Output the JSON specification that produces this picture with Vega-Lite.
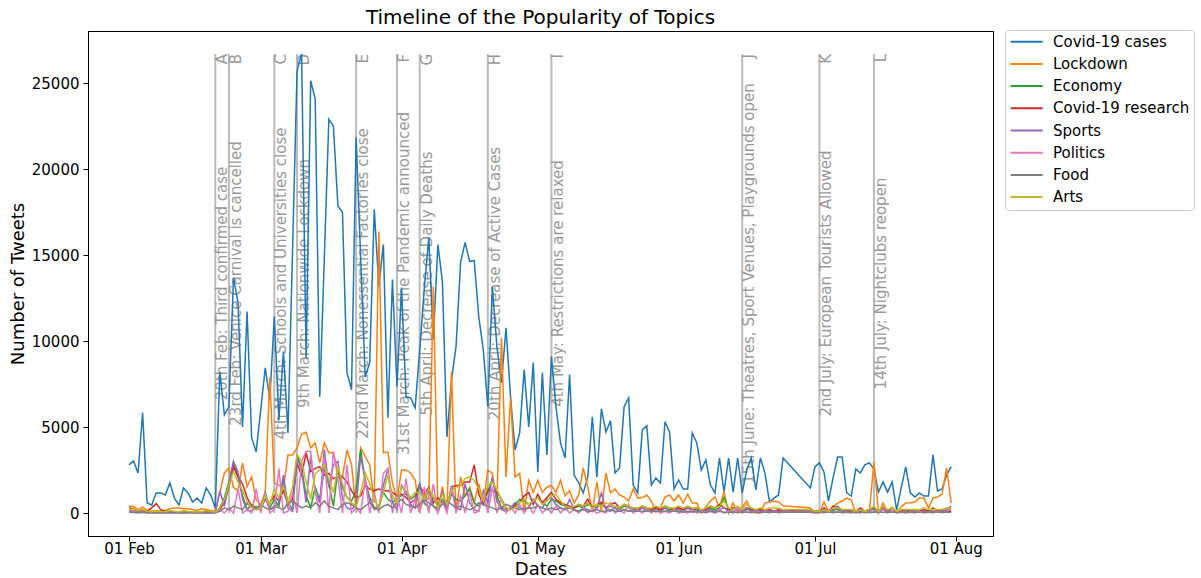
{
"$schema":"https://vega.github.io/schema/vega-lite/v6.json",
"width":905,"height":505,
"autosize":{"type":"none"},
"padding":{"left":88,"top":31,"right":208,"bottom":42},
"background":"white",
"title":{"text":"Timeline of the Popularity of Topics","fontSize":20,"fontWeight":"normal","font":"DejaVu Sans","color":"black","anchor":"middle","offset":-18,"baseline":"bottom"},
"config":{
"font":"DejaVu Sans",
"view":{"stroke":"black","strokeWidth":1},
"axis":{"grid":false,"domainColor":"black","tickColor":"black","labelColor":"black","titleColor":"black","labelFont":"DejaVu Sans","titleFont":"DejaVu Sans","labelFontSize":15,"titleFontSize":18,"titleFontWeight":"normal","tickSize":5,"domainWidth":1,"tickWidth":1}
},
"datasets":{
"topics":[{"k":"c","topic":"Covid-19 cases"},{"k":"l","topic":"Lockdown"},{"k":"e","topic":"Economy"},{"k":"r","topic":"Covid-19 research"},{"k":"s","topic":"Sports"},{"k":"p","topic":"Politics"},{"k":"f","topic":"Food"},{"k":"a","topic":"Arts"}],
"events":[
{"t":"2020-02-20","letter":"A","label":"20th Feb: Third confirmed case"},
{"t":"2020-02-23","letter":"B","label":"23rd Feb: Venice Carnival is cancelled"},
{"t":"2020-03-04","letter":"C","label":"4th March: Schools and Universities close"},
{"t":"2020-03-09","letter":"D","label":"9th March: Nationwide Lockdown"},
{"t":"2020-03-22","letter":"E","label":"22nd March: Nonessential Factories close"},
{"t":"2020-03-31","letter":"F","label":"31st March: Peak of the Pandemic announced"},
{"t":"2020-04-05","letter":"G","label":"5th April: Decrease of Daily Deaths"},
{"t":"2020-04-20","letter":"H","label":"20th April: Decrease of Active Cases"},
{"t":"2020-05-04","letter":"I","label":"4th May: Restrictions are relaxed"},
{"t":"2020-06-15","letter":"J","label":"15th June: Theatres, Sport Venues, Playgrounds open"},
{"t":"2020-07-02","letter":"K","label":"2nd July: European Tourists Allowed"},
{"t":"2020-07-14","letter":"L","label":"14th July: Nightclubs reopen"}
],
"tweets":[
{"t":"2020-02-01","c":2800,"l":400,"e":100,"r":300,"s":50,"p":150,"f":50,"a":200},
{"t":"2020-02-02","c":3030,"l":380,"e":120,"r":250,"s":30,"p":100,"f":50,"a":250},
{"t":"2020-02-03","c":2330,"l":200,"e":80,"r":100,"s":20,"p":50,"f":30,"a":150},
{"t":"2020-02-04","c":5830,"l":350,"e":150,"r":150,"s":40,"p":80,"f":40,"a":200},
{"t":"2020-02-05","c":580,"l":150,"e":60,"r":100,"s":10,"p":20,"f":20,"a":100},
{"t":"2020-02-06","c":470,"l":100,"e":50,"r":300,"s":10,"p":10,"f":20,"a":80},
{"t":"2020-02-07","c":1170,"l":150,"e":70,"r":550,"s":20,"p":30,"f":30,"a":120},
{"t":"2020-02-08","c":1170,"l":100,"e":60,"r":200,"s":10,"p":20,"f":20,"a":90},
{"t":"2020-02-09","c":1050,"l":150,"e":50,"r":100,"s":10,"p":10,"f":20,"a":80},
{"t":"2020-02-10","c":1750,"l":250,"e":80,"r":80,"s":30,"p":40,"f":30,"a":150},
{"t":"2020-02-11","c":870,"l":300,"e":60,"r":60,"s":20,"p":20,"f":20,"a":100},
{"t":"2020-02-12","c":470,"l":300,"e":50,"r":50,"s":10,"p":10,"f":20,"a":80},
{"t":"2020-02-13","c":1460,"l":250,"e":70,"r":80,"s":20,"p":30,"f":30,"a":130},
{"t":"2020-02-14","c":1170,"l":250,"e":60,"r":60,"s":10,"p":20,"f":20,"a":100},
{"t":"2020-02-15","c":640,"l":200,"e":50,"r":50,"s":10,"p":10,"f":20,"a":80},
{"t":"2020-02-16","c":870,"l":150,"e":60,"r":60,"s":20,"p":20,"f":20,"a":90},
{"t":"2020-02-17","c":580,"l":250,"e":50,"r":50,"s":10,"p":10,"f":20,"a":80},
{"t":"2020-02-18","c":1460,"l":200,"e":80,"r":80,"s":30,"p":30,"f":30,"a":150},
{"t":"2020-02-19","c":1050,"l":150,"e":60,"r":60,"s":20,"p":20,"f":20,"a":100},
{"t":"2020-02-20","c":290,"l":100,"e":50,"r":50,"s":10,"p":10,"f":20,"a":60},
{"t":"2020-02-21","c":8220,"l":1170,"e":300,"r":200,"s":1300,"p":200,"f":100,"a":300},
{"t":"2020-02-22","c":5710,"l":2330,"e":900,"r":600,"s":400,"p":0,"f":300,"a":800},
{"t":"2020-02-23","c":6180,"l":2620,"e":1800,"r":1500,"s":1700,"p":300,"f":200,"a":1600},
{"t":"2020-02-24","c":13700,"l":1500,"e":2950,"r":2700,"s":3000,"p":0,"f":400,"a":2400},
{"t":"2020-02-25","c":12240,"l":1300,"e":2100,"r":2100,"s":2400,"p":1400,"f":300,"a":1800},
{"t":"2020-02-26","c":5010,"l":2900,"e":1000,"r":1700,"s":800,"p":0,"f":200,"a":1300},
{"t":"2020-02-27","c":11720,"l":1530,"e":200,"r":900,"s":200,"p":200,"f":600,"a":700},
{"t":"2020-02-28","c":4370,"l":2100,"e":500,"r":400,"s":100,"p":0,"f":300,"a":300},
{"t":"2020-02-29","c":3560,"l":760,"e":300,"r":200,"s":400,"p":1400,"f":200,"a":200},
{"t":"2020-03-01","c":6000,"l":500,"e":200,"r":300,"s":200,"p":0,"f":500,"a":300},
{"t":"2020-03-02","c":8450,"l":1200,"e":1200,"r":800,"s":900,"p":1200,"f":300,"a":1000},
{"t":"2020-03-03","c":6590,"l":7900,"e":300,"r":600,"s":200,"p":0,"f":200,"a":500},
{"t":"2020-03-04","c":11430,"l":1750,"e":800,"r":1000,"s":300,"p":200,"f":400,"a":1400},
{"t":"2020-03-05","c":5420,"l":1630,"e":400,"r":700,"s":600,"p":2600,"f":300,"a":900},
{"t":"2020-03-06","c":9390,"l":1400,"e":1900,"r":1300,"s":2200,"p":0,"f":200,"a":1550},
{"t":"2020-03-07","c":4660,"l":3380,"e":600,"r":500,"s":300,"p":100,"f":600,"a":600},
{"t":"2020-03-08","c":15200,"l":3380,"e":200,"r":800,"s":100,"p":1200,"f":700,"a":1500},
{"t":"2020-03-09","c":25700,"l":3790,"e":3400,"r":2900,"s":3200,"p":0,"f":500,"a":3400},
{"t":"2020-03-10","c":26700,"l":4600,"e":2600,"r":2200,"s":2500,"p":3000,"f":300,"a":3000},
{"t":"2020-03-11","c":9000,"l":4700,"e":1000,"r":3500,"s":600,"p":3600,"f":400,"a":1800},
{"t":"2020-03-12","c":25150,"l":3800,"e":300,"r":2400,"s":3300,"p":3600,"f":300,"a":800},
{"t":"2020-03-13","c":24080,"l":4080,"e":1500,"r":2600,"s":1200,"p":1200,"f":600,"a":2300},
{"t":"2020-03-14","c":6760,"l":2920,"e":800,"r":2700,"s":600,"p":0,"f":400,"a":2500},
{"t":"2020-03-15","c":14800,"l":4080,"e":2600,"r":2200,"s":3700,"p":3300,"f":700,"a":2800},
{"t":"2020-03-16","c":22900,"l":3500,"e":1700,"r":2300,"s":1500,"p":0,"f":400,"a":2000},
{"t":"2020-03-17","c":22500,"l":3500,"e":400,"r":2000,"s":2800,"p":3600,"f":300,"a":1200},
{"t":"2020-03-18","c":17840,"l":2330,"e":2500,"r":2100,"s":3000,"p":2000,"f":200,"a":2700},
{"t":"2020-03-19","c":17490,"l":2100,"e":1500,"r":2100,"s":800,"p":0,"f":500,"a":1700},
{"t":"2020-03-20","c":8160,"l":3670,"e":900,"r":1800,"s":300,"p":2800,"f":600,"a":900},
{"t":"2020-03-21","c":7170,"l":2800,"e":700,"r":1300,"s":200,"p":0,"f":500,"a":600},
{"t":"2020-03-22","c":21860,"l":200,"e":1300,"r":900,"s":500,"p":300,"f":300,"a":400},
{"t":"2020-03-23","c":14900,"l":3790,"e":3700,"r":1000,"s":3300,"p":0,"f":200,"a":1200},
{"t":"2020-03-24","c":7930,"l":3290,"e":1800,"r":1600,"s":2000,"p":2000,"f":400,"a":2330},
{"t":"2020-03-25","c":8750,"l":2800,"e":900,"r":1400,"s":700,"p":0,"f":600,"a":1700},
{"t":"2020-03-26","c":17660,"l":600,"e":300,"r":1300,"s":200,"p":1200,"f":300,"a":800},
{"t":"2020-03-27","c":13180,"l":16380,"e":400,"r":1400,"s":300,"p":0,"f":200,"a":300},
{"t":"2020-03-28","c":15620,"l":3500,"e":1200,"r":1300,"s":1600,"p":2300,"f":400,"a":1200},
{"t":"2020-03-29","c":5540,"l":3560,"e":800,"r":1300,"s":2600,"p":2600,"f":500,"a":2200},
{"t":"2020-03-30","c":13580,"l":1750,"e":600,"r":1200,"s":600,"p":0,"f":300,"a":1000},
{"t":"2020-03-31","c":7350,"l":760,"e":900,"r":1000,"s":200,"p":1000,"f":600,"a":600},
{"t":"2020-04-01","c":13120,"l":2500,"e":1000,"r":1100,"s":1600,"p":0,"f":800,"a":1500},
{"t":"2020-04-02","c":6760,"l":2500,"e":1100,"r":900,"s":1200,"p":2000,"f":500,"a":1300},
{"t":"2020-04-03","c":6700,"l":2330,"e":800,"r":600,"s":500,"p":0,"f":400,"a":900},
{"t":"2020-04-04","c":6120,"l":1920,"e":1000,"r":800,"s":300,"p":800,"f":300,"a":1200},
{"t":"2020-04-05","c":9500,"l":100,"e":1700,"r":1600,"s":1700,"p":0,"f":500,"a":1200},
{"t":"2020-04-06","c":13000,"l":1000,"e":600,"r":1100,"s":600,"p":1500,"f":800,"a":800},
{"t":"2020-04-07","c":16030,"l":800,"e":300,"r":1500,"s":1400,"p":0,"f":600,"a":1400},
{"t":"2020-04-08","c":10100,"l":13180,"e":900,"r":600,"s":400,"p":1700,"f":400,"a":1000},
{"t":"2020-04-09","c":15620,"l":170,"e":500,"r":900,"s":100,"p":0,"f":300,"a":300},
{"t":"2020-04-10","c":13460,"l":1530,"e":800,"r":600,"s":1300,"p":700,"f":500,"a":1100},
{"t":"2020-04-11","c":4430,"l":100,"e":300,"r":300,"s":200,"p":0,"f":700,"a":500},
{"t":"2020-04-12","c":7750,"l":8220,"e":1100,"r":1500,"s":1600,"p":1500,"f":500,"a":1300},
{"t":"2020-04-13","c":9680,"l":0,"e":800,"r":1600,"s":300,"p":0,"f":300,"a":1500},
{"t":"2020-04-14","c":14570,"l":2100,"e":700,"r":1600,"s":200,"p":1000,"f":400,"a":1600},
{"t":"2020-04-15","c":15740,"l":1000,"e":1000,"r":1800,"s":1700,"p":0,"f":300,"a":2000},
{"t":"2020-04-16","c":14630,"l":1500,"e":1400,"r":1800,"s":600,"p":1200,"f":200,"a":2100},
{"t":"2020-04-17","c":14690,"l":600,"e":600,"r":2800,"s":200,"p":0,"f":300,"a":1900},
{"t":"2020-04-18","c":11430,"l":1700,"e":400,"r":1100,"s":100,"p":100,"f":600,"a":1400},
{"t":"2020-04-19","c":9500,"l":600,"e":800,"r":500,"s":1300,"p":1200,"f":500,"a":700},
{"t":"2020-04-20","c":6180,"l":2500,"e":1200,"r":1400,"s":600,"p":0,"f":400,"a":1600},
{"t":"2020-04-21","c":13150,"l":2300,"e":2000,"r":1300,"s":2100,"p":1500,"f":300,"a":1800},
{"t":"2020-04-22","c":9680,"l":600,"e":1000,"r":1200,"s":700,"p":0,"f":200,"a":1400},
{"t":"2020-04-23","c":7580,"l":10200,"e":300,"r":800,"s":200,"p":800,"f":300,"a":700},
{"t":"2020-04-24","c":10780,"l":2100,"e":200,"r":300,"s":100,"p":0,"f":500,"a":300},
{"t":"2020-04-25","c":6760,"l":6700,"e":300,"r":200,"s":300,"p":400,"f":400,"a":200},
{"t":"2020-04-26","c":3670,"l":2100,"e":500,"r":400,"s":600,"p":0,"f":300,"a":300},
{"t":"2020-04-27","c":4660,"l":2300,"e":800,"r":600,"s":300,"p":500,"f":200,"a":600},
{"t":"2020-04-28","c":8340,"l":100,"e":700,"r":1000,"s":200,"p":0,"f":300,"a":800},
{"t":"2020-04-29","c":5010,"l":1900,"e":500,"r":1200,"s":300,"p":400,"f":300,"a":500},
{"t":"2020-04-30","c":8750,"l":1200,"e":700,"r":500,"s":800,"p":0,"f":300,"a":700},
{"t":"2020-05-01","c":2390,"l":1900,"e":900,"r":1100,"s":400,"p":500,"f":400,"a":900},
{"t":"2020-05-02","c":8160,"l":1200,"e":600,"r":600,"s":300,"p":0,"f":300,"a":500},
{"t":"2020-05-03","c":3380,"l":1500,"e":400,"r":900,"s":800,"p":300,"f":200,"a":700},
{"t":"2020-05-04","c":9100,"l":1600,"e":800,"r":1200,"s":900,"p":0,"f":300,"a":1000},
{"t":"2020-05-05","c":6180,"l":1200,"e":700,"r":800,"s":500,"p":400,"f":200,"a":1100},
{"t":"2020-05-06","c":4080,"l":1900,"e":500,"r":600,"s":300,"p":0,"f":300,"a":700},
{"t":"2020-05-07","c":3200,"l":1000,"e":400,"r":500,"s":200,"p":300,"f":200,"a":400},
{"t":"2020-05-08","c":8050,"l":1300,"e":300,"r":400,"s":800,"p":0,"f":300,"a":300},
{"t":"2020-05-09","c":2210,"l":580,"e":300,"r":300,"s":200,"p":200,"f":200,"a":400},
{"t":"2020-05-10","c":1750,"l":1050,"e":400,"r":500,"s":100,"p":0,"f":100,"a":500},
{"t":"2020-05-11","c":1170,"l":2620,"e":300,"r":400,"s":300,"p":300,"f":200,"a":400},
{"t":"2020-05-12","c":2100,"l":1530,"e":500,"r":800,"s":200,"p":0,"f":100,"a":600},
{"t":"2020-05-13","c":5600,"l":50,"e":400,"r":300,"s":100,"p":200,"f":100,"a":300},
{"t":"2020-05-14","c":2100,"l":1810,"e":300,"r":500,"s":300,"p":0,"f":200,"a":500},
{"t":"2020-05-15","c":6060,"l":100,"e":600,"r":600,"s":1170,"p":100,"f":100,"a":400},
{"t":"2020-05-16","c":4720,"l":2330,"e":300,"r":300,"s":200,"p":0,"f":100,"a":600},
{"t":"2020-05-17","c":5360,"l":1170,"e":400,"r":500,"s":100,"p":600,"f":200,"a":500},
{"t":"2020-05-18","c":2330,"l":1400,"e":300,"r":600,"s":300,"p":0,"f":100,"a":400},
{"t":"2020-05-19","c":2620,"l":1050,"e":200,"r":300,"s":100,"p":200,"f":100,"a":300},
{"t":"2020-05-20","c":6180,"l":930,"e":400,"r":500,"s":200,"p":0,"f":200,"a":500},
{"t":"2020-05-21","c":6700,"l":700,"e":300,"r":400,"s":100,"p":500,"f":100,"a":400},
{"t":"2020-05-22","c":1630,"l":1400,"e":200,"r":300,"s":200,"p":0,"f":100,"a":300},
{"t":"2020-05-23","c":1170,"l":870,"e":200,"r":200,"s":100,"p":200,"f":100,"a":300},
{"t":"2020-05-24","c":4840,"l":900,"e":300,"r":400,"s":300,"p":0,"f":100,"a":400},
{"t":"2020-05-25","c":5070,"l":1050,"e":200,"r":300,"s":100,"p":300,"f":100,"a":300},
{"t":"2020-05-26","c":1630,"l":700,"e":200,"r":200,"s":100,"p":0,"f":100,"a":300},
{"t":"2020-05-27","c":2040,"l":50,"e":300,"r":300,"s":200,"p":200,"f":100,"a":400},
{"t":"2020-05-28","c":1750,"l":300,"e":200,"r":200,"s":100,"p":0,"f":100,"a":300},
{"t":"2020-05-29","c":5310,"l":930,"e":300,"r":400,"s":300,"p":100,"f":100,"a":400},
{"t":"2020-05-30","c":4720,"l":1050,"e":200,"r":300,"s":100,"p":0,"f":100,"a":300},
{"t":"2020-05-31","c":1400,"l":700,"e":200,"r":200,"s":100,"p":200,"f":100,"a":300},
{"t":"2020-06-01","c":1920,"l":1050,"e":300,"r":300,"s":200,"p":0,"f":100,"a":400},
{"t":"2020-06-02","c":1400,"l":580,"e":200,"r":200,"s":100,"p":100,"f":50,"a":300},
{"t":"2020-06-03","c":1400,"l":1100,"e":300,"r":300,"s":300,"p":0,"f":100,"a":400},
{"t":"2020-06-04","c":4660,"l":580,"e":200,"r":200,"s":100,"p":200,"f":50,"a":300},
{"t":"2020-06-05","c":4080,"l":580,"e":200,"r":300,"s":100,"p":0,"f":100,"a":300},
{"t":"2020-06-06","c":2510,"l":0,"e":100,"r":100,"s":200,"p":100,"f":50,"a":200},
{"t":"2020-06-07","c":3090,"l":350,"e":200,"r":200,"s":100,"p":0,"f":50,"a":300},
{"t":"2020-06-08","c":1630,"l":700,"e":300,"r":400,"s":200,"p":100,"f":100,"a":400},
{"t":"2020-06-09","c":1170,"l":930,"e":200,"r":300,"s":100,"p":0,"f":50,"a":300},
{"t":"2020-06-10","c":3200,"l":350,"e":300,"r":500,"s":200,"p":200,"f":100,"a":400},
{"t":"2020-06-11","c":1220,"l":1220,"e":900,"r":300,"s":300,"p":0,"f":50,"a":700},
{"t":"2020-06-12","c":3200,"l":0,"e":200,"r":200,"s":100,"p":100,"f":50,"a":300},
{"t":"2020-06-13","c":1220,"l":580,"e":200,"r":300,"s":100,"p":0,"f":50,"a":200},
{"t":"2020-06-14","c":3200,"l":0,"e":300,"r":200,"s":200,"p":300,"f":50,"a":400},
{"t":"2020-06-15","c":1170,"l":350,"e":100,"r":100,"s":100,"p":0,"f":50,"a":200},
{"t":"2020-06-16","c":2510,"l":700,"e":200,"r":300,"s":300,"p":100,"f":50,"a":500},
{"t":"2020-06-17","c":3200,"l":100,"e":200,"r":200,"s":100,"p":0,"f":50,"a":300},
{"t":"2020-06-18","c":1340,"l":0,"e":100,"r":100,"s":200,"p":100,"f":50,"a":200},
{"t":"2020-06-19","c":3200,"l":0,"e":200,"r":200,"s":100,"p":0,"f":50,"a":300},
{"t":"2020-06-20","c":2330,"l":580,"e":100,"r":100,"s":100,"p":100,"f":50,"a":200},
{"t":"2020-06-21","c":640,"l":640,"e":100,"r":200,"s":100,"p":0,"f":50,"a":300},
{"t":"2020-06-22","c":870,"l":700,"e":100,"r":100,"s":100,"p":100,"f":50,"a":300},
{"t":"2020-06-23","c":1050,"l":640,"e":100,"r":200,"s":100,"p":0,"f":50,"a":300},
{"t":"2020-06-24","c":3200,"l":420,"e":100,"r":100,"s":100,"p":50,"f":50,"a":200},
{"t":"2020-06-30","c":1460,"l":300,"e":100,"r":200,"s":100,"p":50,"f":50,"a":200},
{"t":"2020-07-01","c":2680,"l":0,"e":100,"r":100,"s":50,"p":0,"f":50,"a":100},
{"t":"2020-07-02","c":2920,"l":0,"e":100,"r":100,"s":50,"p":50,"f":50,"a":100},
{"t":"2020-07-03","c":2390,"l":640,"e":200,"r":300,"s":100,"p":0,"f":50,"a":200},
{"t":"2020-07-04","c":700,"l":100,"e":100,"r":100,"s":50,"p":100,"f":50,"a":100},
{"t":"2020-07-05","c":2040,"l":350,"e":200,"r":400,"s":100,"p":0,"f":50,"a":300},
{"t":"2020-07-06","c":3260,"l":580,"e":200,"r":300,"s":400,"p":100,"f":50,"a":300},
{"t":"2020-07-07","c":3260,"l":700,"e":100,"r":200,"s":100,"p":0,"f":50,"a":200},
{"t":"2020-07-08","c":1170,"l":870,"e":100,"r":100,"s":100,"p":50,"f":50,"a":200},
{"t":"2020-07-09","c":990,"l":760,"e":100,"r":200,"s":50,"p":0,"f":50,"a":200},
{"t":"2020-07-10","c":2560,"l":0,"e":100,"r":100,"s":50,"p":50,"f":50,"a":100},
{"t":"2020-07-11","c":2330,"l":100,"e":200,"r":300,"s":100,"p":0,"f":50,"a":200},
{"t":"2020-07-12","c":2800,"l":0,"e":100,"r":100,"s":50,"p":100,"f":50,"a":100},
{"t":"2020-07-13","c":2920,"l":100,"e":200,"r":200,"s":100,"p":0,"f":50,"a":200},
{"t":"2020-07-14","c":2560,"l":2970,"e":200,"r":300,"s":300,"p":100,"f":50,"a":400},
{"t":"2020-07-15","c":1220,"l":0,"e":100,"r":100,"s":50,"p":0,"f":50,"a":100},
{"t":"2020-07-16","c":1810,"l":580,"e":200,"r":300,"s":300,"p":200,"f":50,"a":400},
{"t":"2020-07-17","c":1220,"l":100,"e":100,"r":100,"s":100,"p":0,"f":50,"a":200},
{"t":"2020-07-18","c":1810,"l":350,"e":100,"r":300,"s":100,"p":100,"f":50,"a":300},
{"t":"2020-07-19","c":170,"l":0,"e":50,"r":50,"s":50,"p":0,"f":50,"a":100},
{"t":"2020-07-20","c":1460,"l":350,"e":100,"r":100,"s":50,"p":50,"f":50,"a":200},
{"t":"2020-07-21","c":2680,"l":580,"e":200,"r":200,"s":100,"p":0,"f":50,"a":200},
{"t":"2020-07-22","c":1170,"l":600,"e":100,"r":100,"s":50,"p":50,"f":50,"a":200},
{"t":"2020-07-23","c":930,"l":640,"e":100,"r":100,"s":100,"p":0,"f":50,"a":200},
{"t":"2020-07-24","c":1170,"l":870,"e":100,"r":100,"s":50,"p":100,"f":50,"a":200},
{"t":"2020-07-25","c":990,"l":870,"e":100,"r":200,"s":100,"p":0,"f":50,"a":300},
{"t":"2020-07-26","c":990,"l":300,"e":100,"r":100,"s":50,"p":50,"f":50,"a":200},
{"t":"2020-07-27","c":3380,"l":870,"e":100,"r":300,"s":100,"p":0,"f":50,"a":200},
{"t":"2020-07-28","c":1280,"l":930,"e":100,"r":100,"s":50,"p":100,"f":50,"a":200},
{"t":"2020-07-29","c":1400,"l":1100,"e":100,"r":200,"s":100,"p":0,"f":50,"a":200},
{"t":"2020-07-30","c":2210,"l":2620,"e":100,"r":100,"s":200,"p":100,"f":50,"a":300},
{"t":"2020-07-31","c":2680,"l":580,"e":100,"r":100,"s":400,"p":300,"f":50,"a":200}
]
},
"layer":[
{"data":{"name":"events"},
 "mark":{"type":"rule","color":"#bbbbbb","strokeWidth":2},
 "encoding":{
  "x":{"field":"t","type":"temporal","scale":{"type":"utc","domain":[{"year":2020,"month":1,"date":22,"hours":23,"minutes":30,"utc":true},{"year":2020,"month":8,"date":9,"hours":5,"utc":true}]},"axis":{"title":"Dates","values":[{"year":2020,"month":2,"date":1,"utc":true},{"year":2020,"month":3,"date":1,"utc":true},{"year":2020,"month":4,"date":1,"utc":true},{"year":2020,"month":5,"date":1,"utc":true},{"year":2020,"month":6,"date":1,"utc":true},{"year":2020,"month":7,"date":1,"utc":true},{"year":2020,"month":8,"date":1,"utc":true}],"format":"%d %b","labelPadding":0,"titlePadding":4}},
  "y":{"datum":0,"type":"quantitative","scale":{"domain":[-1335,28035],"nice":false,"zero":false},"axis":{"title":"Number of Tweets","values":[0,5000,10000,15000,20000,25000],"format":"d","labelPadding":4,"titlePadding":4}},
  "y2":{"datum":26700}
 }},
{"data":{"name":"events"},
 "mark":{"type":"text","angle":270,"align":"center","baseline":"top","fontSize":15,"color":"#999999","font":"DejaVu Sans"},
 "encoding":{
  "x":{"field":"t","type":"temporal","axis":{"title":"Dates","values":[{"year":2020,"month":2,"date":1,"utc":true},{"year":2020,"month":3,"date":1,"utc":true},{"year":2020,"month":4,"date":1,"utc":true},{"year":2020,"month":5,"date":1,"utc":true},{"year":2020,"month":6,"date":1,"utc":true},{"year":2020,"month":7,"date":1,"utc":true},{"year":2020,"month":8,"date":1,"utc":true}],"format":"%d %b","labelPadding":0,"titlePadding":4}},
  "y":{"datum":13350,"type":"quantitative","axis":{"title":"Number of Tweets","values":[0,5000,10000,15000,20000,25000],"format":"d","labelPadding":4,"titlePadding":4}},
  "text":{"field":"label"}
 }},
{"data":{"name":"events"},
 "mark":{"type":"text","angle":270,"align":"right","baseline":"top","fontSize":15,"color":"#999999","font":"DejaVu Sans"},
 "encoding":{
  "x":{"field":"t","type":"temporal","axis":{"title":"Dates","values":[{"year":2020,"month":2,"date":1,"utc":true},{"year":2020,"month":3,"date":1,"utc":true},{"year":2020,"month":4,"date":1,"utc":true},{"year":2020,"month":5,"date":1,"utc":true},{"year":2020,"month":6,"date":1,"utc":true},{"year":2020,"month":7,"date":1,"utc":true},{"year":2020,"month":8,"date":1,"utc":true}],"format":"%d %b","labelPadding":0,"titlePadding":4}},
  "y":{"datum":26700,"type":"quantitative","axis":{"title":"Number of Tweets","values":[0,5000,10000,15000,20000,25000],"format":"d","labelPadding":4,"titlePadding":4}},
  "text":{"field":"letter"}
 }},
{"data":{"name":"tweets"},
 "transform":[{"fold":["c","l","e","r","s","p","f","a"],"as":["k","v"]},{"lookup":"k","from":{"data":{"name":"topics"},"key":"k","fields":["topic"]}}],
 "mark":{"type":"line","strokeWidth":1.5},
 "encoding":{
  "x":{"field":"t","type":"temporal","axis":{"title":"Dates","values":[{"year":2020,"month":2,"date":1,"utc":true},{"year":2020,"month":3,"date":1,"utc":true},{"year":2020,"month":4,"date":1,"utc":true},{"year":2020,"month":5,"date":1,"utc":true},{"year":2020,"month":6,"date":1,"utc":true},{"year":2020,"month":7,"date":1,"utc":true},{"year":2020,"month":8,"date":1,"utc":true}],"format":"%d %b","labelPadding":0,"titlePadding":4}},
  "y":{"field":"v","type":"quantitative","axis":{"title":"Number of Tweets","values":[0,5000,10000,15000,20000,25000],"format":"d","labelPadding":4,"titlePadding":4}},
  "color":{"field":"topic","type":"nominal","sort":null,
   "scale":{"domain":["Covid-19 cases","Lockdown","Economy","Covid-19 research","Sports","Politics","Food","Arts"],"range":["#1f77b4","#ff7f0e","#2ca02c","#d62728","#9467bd","#e377c2","#7f7f7f","#bcbd22"]},
   "legend":{"title":null,"orient":"none","legendX":917,"legendY":-1,"padding":4.2,"strokeColor":"#cccccc","fillColor":"white","cornerRadius":3,"labelFontSize":15,"labelFont":"DejaVu Sans","labelColor":"black","symbolType":"M-1.2,0H5.2","symbolSize":100,"symbolStrokeWidth":2,"rowPadding":6.2,"labelOffset":28.8}}
 }}
]
}
